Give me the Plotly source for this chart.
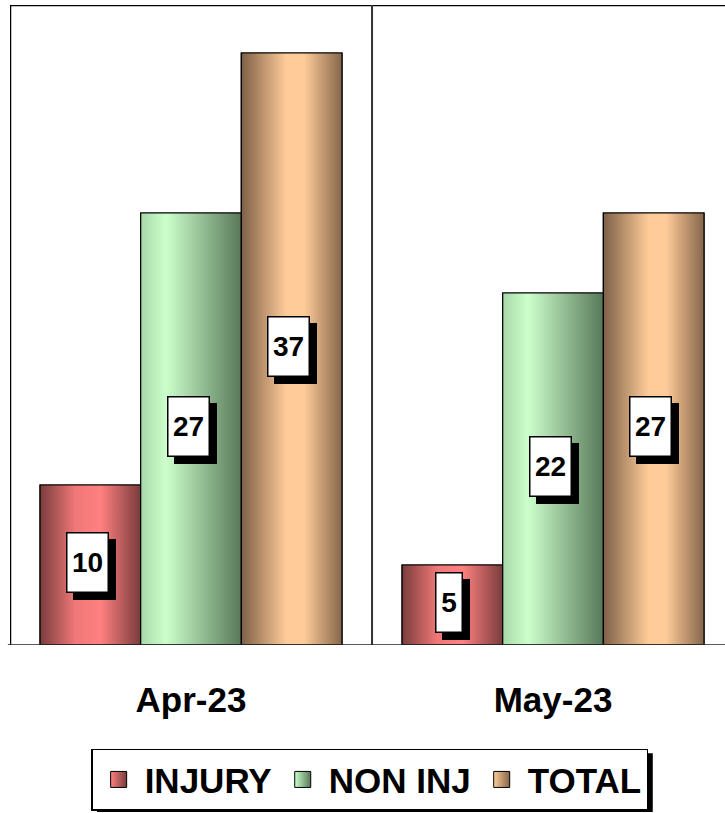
import plotly.graph_objects as go

months = ["Apr-23", "May-23"]
series_names = ["INJURY", "NON INJ", "TOTAL"]
injury = [10, 5]
non_inj = [27, 22]
total = [37, 27]
series_values = [injury, non_inj, total]

base_colors = ["#ff8080", "#ccffcc", "#ffcc99"]
dark_colors = ["#7a3c3c", "#587858", "#86664a"]
gradients = [
    [[0, "#7a3c3c"], [0.35, "#f07878"], [0.6, "#ff8080"], [1, "#7a3c3c"]],
    [[0, "#a8d8a8"], [0.25, "#ccffcc"], [1, "#587858"]],
    [[0, "#7e6047"], [0.45, "#ffcc99"], [0.62, "#ffcc99"], [1, "#86664a"]],
]
FONT = "Arial, 'Liberation Sans', sans-serif"

bargap = 0.166
w = (1 - bargap) / 3
xs = list(range(len(months)))

fig = go.Figure()
for j, (name, vals) in enumerate(zip(series_names, series_values)):
    fig.add_trace(go.Bar(
        x=xs, y=vals, name=name, showlegend=False,
        marker=dict(color=base_colors[j], line=dict(color="black", width=1.2)),
    ))

# gradient overlays derived from the same data
for j, vals in enumerate(series_values):
    for i, v in enumerate(vals):
        cx = i + (j - 1) * w
        x0, x1 = cx - w / 2, cx + w / 2
        fig.add_trace(go.Scatter(
            x=[x0, x1, x1, x0, x0], y=[0, 0, v, v, 0],
            mode="lines", fill="toself",
            fillgradient=dict(type="horizontal", colorscale=gradients[j]),
            line=dict(color="black", width=1.2),
            showlegend=False, hoverinfo="skip",
        ))

# legend entries
for j, name in enumerate(series_names):
    fig.add_trace(go.Scatter(
        x=[None], y=[None], mode="markers", name=name,
        marker=dict(symbol="square", size=16, color=base_colors[j],
                    gradient=dict(type="horizontal", color=dark_colors[j]),
                    line=dict(color="black", width=1)),
    ))

annotations = []
for j, vals in enumerate(series_values):
    for i, v in enumerate(vals):
        cx = i + (j - 1) * w
        bw = 40 if len(str(v)) > 1 else 25
        annotations.append(dict(
            x=cx, y=v / 2, xref="x", yref="y", text="", showarrow=False,
            bgcolor="black", width=bw, height=58, borderpad=0, borderwidth=1.5,
            bordercolor="black", xshift=4, yshift=-4,
        ))
        annotations.append(dict(
            x=cx, y=v / 2, xref="x", yref="y", text="<b>%d</b>" % v, showarrow=False,
            bgcolor="white", width=bw, height=58, borderpad=0, borderwidth=1.5,
            bordercolor="black", xshift=-3, yshift=3,
            font=dict(family=FONT, size=28, color="black"),
        ))

shapes = [
    dict(type="line", xref="paper", yref="y", x0=0, x1=1, y0=40, y1=40,
         line=dict(color="black", width=2.5)),
    dict(type="line", xref="x", yref="paper", x0=-0.5, x1=-0.5, y0=0, y1=1,
         line=dict(color="black", width=2.5)),
    dict(type="line", xref="x", yref="paper", x0=0.5, x1=0.5, y0=0, y1=1,
         line=dict(color="#333333", width=2)),
    dict(type="line", xref="paper", yref="y", x0=-0.003, x1=1, y0=0, y1=0,
         line=dict(color="#222222", width=1.5)),
    # legend shadow
    dict(type="rect", xref="paper", yref="paper", x0=0.1217, x1=0.899, y0=-0.261, y1=-0.169,
         fillcolor="black", line=dict(width=0), layer="below"),
]

fig.update_layout(
    width=725, height=813,
    margin=dict(l=10, r=0, t=5, b=168),
    paper_bgcolor="white", plot_bgcolor="white",
    barmode="group", bargap=bargap, bargroupgap=0,
    xaxis=dict(range=[-0.5, 1.475], tickvals=xs, ticktext=["<b>%s</b>" % m for m in months],
               tickfont=dict(family=FONT, size=35, color="black"), showgrid=False,
               zeroline=False, showline=False, ticks="", ticklabelstandoff=31),
    yaxis=dict(range=[0, 40], showticklabels=False, showgrid=False, zeroline=False,
               showline=False, ticks=""),
    showlegend=True,
    legend=dict(orientation="h", x=0.503, xanchor="center", y=-0.162, yanchor="top",
                font=dict(family=FONT, size=35, color="black", weight="bold"),
                bgcolor="white", bordercolor="black", borderwidth=1.5,
                itemwidth=42, tracegroupgap=0),
    annotations=annotations,
    shapes=shapes,
)

fig.write_html("out.html", post_script="document.body.style.margin='0px';",
               config={"displayModeBar": False})
